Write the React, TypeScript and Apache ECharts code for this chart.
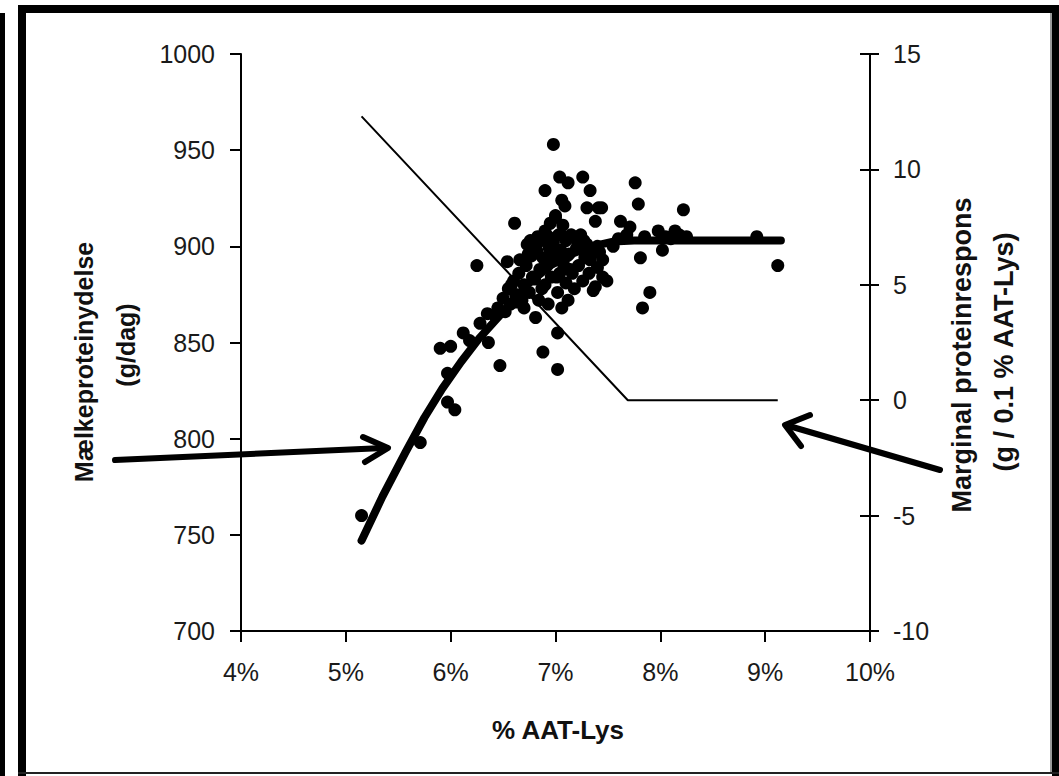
import React, { useEffect, useRef } from "react";
import * as echarts from "echarts";

// x-axis tick values (% AAT-Lys)
const xTicks = [4, 5, 6, 7, 8, 9, 10];
// left y-axis range (g/dag)
const leftRange = [700, 1000];
// right y-axis range (g / 0.1 % AAT-Lys)
const rightRange = [-10, 15];

// titles
const xTitle = "% AAT-Lys";
const leftTitle = ["Mælkeproteinydelse", "(g/dag)"];
const rightTitle = ["Marginal proteinrespons", "(g / 0.1 % AAT-Lys)"];

// Observed milk protein yield, [ % AAT-Lys, g/dag ]
const observedPoints: [number, number][] = [
  [5.15, 760], [5.71, 798], [5.97, 819], [6.04, 815], [5.97, 834], [5.90, 847],
  [6.00, 848], [6.12, 855], [6.47, 838], [6.25, 890], [6.18, 851], [6.28, 860],
  [6.35, 865], [6.42, 864], [6.36, 850],
  [6.45, 868], [6.50, 873], [6.52, 866], [6.55, 878], [6.57, 870], [6.60, 882],
  [6.62, 875], [6.54, 892], [6.61, 912], [6.73, 901],
  [6.65, 886], [6.68, 872], [6.70, 880], [6.72, 890], [6.75, 876], [6.77, 895],
  [6.80, 883], [6.81, 863], [6.82, 898], [6.84, 872], [6.85, 888], [6.86, 903],
  [6.88, 845], [6.88, 894], [6.90, 880], [6.90, 908], [6.92, 890], [6.94, 899],
  [6.95, 912], [6.96, 884], [6.98, 902], [7.00, 893], [7.00, 916], [7.02, 876],
  [7.02, 855], [7.02, 836], [7.03, 906], [7.04, 886], [7.05, 898], [7.06, 868],
  [7.07, 911], [7.08, 890], [7.10, 881], [7.10, 903], [7.12, 872], [7.13, 896],
  [7.15, 906], [7.16, 886], [7.18, 878], [7.20, 899], [7.22, 890], [7.24, 906],
  [7.26, 882], [7.28, 894], [7.30, 901], [7.32, 886], [7.35, 896], [7.38, 879],
  [7.40, 889], [7.42, 897], [7.45, 893], [7.49, 882], [7.36, 877], [7.45, 884],
  [6.58, 880], [6.63, 871], [6.66, 893], [6.70, 868], [6.74, 896], [6.78, 884],
  [6.83, 905], [6.87, 878], [6.93, 905], [6.97, 895], [7.01, 884], [7.05, 906],
  [7.11, 895], [7.14, 888], [7.19, 904], [7.27, 903], [7.33, 893], [7.40, 900],
  [6.76, 903], [6.93, 870],
  [6.98, 953], [7.04, 936], [7.12, 933], [7.26, 936], [6.90, 929], [7.33, 929],
  [7.06, 924], [7.09, 921], [7.30, 920], [7.41, 920], [7.38, 913], [7.00, 915],
  [7.44, 920], [7.62, 913], [7.71, 910], [7.76, 933], [7.79, 922], [8.22, 919],
  [7.98, 908], [8.14, 908], [8.92, 905], [9.12, 890], [7.81, 894], [7.90, 876],
  [7.83, 868], [8.02, 898], [8.05, 905], [8.18, 906], [8.25, 905], [7.60, 904],
  [7.55, 900], [7.68, 906], [7.85, 905], [8.10, 904],
];

// Fitted response curve, [ % AAT-Lys, g/dag ]
const fittedCurve: [number, number][] = [
  [5.15, 747], [5.35, 770], [5.57, 793], [5.75, 811], [5.92, 826], [6.1, 840],
  [6.27, 852], [6.5, 866], [6.73, 880], [6.95, 890], [7.15, 896], [7.35, 900],
  [7.55, 902.5], [7.75, 903], [9.15, 903],
];

// Marginal response, [ % AAT-Lys, g / 0.1 % AAT-Lys ]
const marginalResponse: [number, number][] = [
  [5.15, 12.3], [7.69, 0], [9.12, 0],
];

const FONT = "'Liberation Sans', Arial, sans-serif";

export default function App() {
  const ref = useRef<HTMLDivElement>(null);

  useEffect(() => {
    document.body.style.margin = "0";
    const chart = echarts.init(ref.current!, null, { renderer: "svg" });
    const black = "#000";
    const labelStyle = { fontSize: 25, color: "#1a1a1a", fontFamily: FONT };
    const titleText = (text: string, x: number, y: number, size: number, rotate: boolean) => ({
      type: "text",
      x,
      y,
      rotation: rotate ? Math.PI / 2 : 0,
      style: {
        text,
        fill: "#111",
        font: `bold ${size}px ${FONT}`,
        align: "center",
        verticalAlign: "middle",
      },
      z: 10,
    });

    chart.setOption({
      animation: false,
      backgroundColor: "#fff",
      grid: { left: 241, right: 189, top: 54, bottom: 145, containLabel: false },
      xAxis: {
        type: "value",
        min: xTicks[0],
        max: xTicks[xTicks.length - 1],
        interval: 1,
        axisLine: { show: true, onZero: false, lineStyle: { color: black, width: 2 } },
        axisTick: { show: true, length: 11, lineStyle: { color: black, width: 2 } },
        axisLabel: { ...labelStyle, margin: 28, formatter: (v: number) => `${v}%` },
        splitLine: { show: false },
      },
      yAxis: [
        {
          type: "value",
          position: "left",
          min: leftRange[0],
          max: leftRange[1],
          interval: 50,
          axisLine: { show: true, onZero: false, lineStyle: { color: black, width: 2 } },
          axisTick: { show: true, length: 11, lineStyle: { color: black, width: 2 } },
          axisLabel: { ...labelStyle, margin: 26, formatter: (v: number) => String(v) },
          splitLine: { show: false },
        },
        {
          type: "value",
          position: "right",
          min: rightRange[0],
          max: rightRange[1],
          interval: 5,
          axisLine: { show: true, onZero: false, lineStyle: { color: black, width: 2 } },
          axisTick: { show: true, length: 9, lineStyle: { color: black, width: 2 } },
          axisLabel: { ...labelStyle, margin: 23, formatter: (v: number) => String(v) },
          splitLine: { show: false },
        },
        {
          type: "value",
          position: "right",
          min: rightRange[0],
          max: rightRange[1],
          interval: 5,
          axisLine: { show: false, onZero: false },
          axisTick: { show: true, inside: true, length: 10, lineStyle: { color: black, width: 2 } },
          axisLabel: { show: false },
          splitLine: { show: false },
        },
      ],
      series: [
        {
          type: "scatter",
          yAxisIndex: 0,
          data: observedPoints,
          symbol: "circle",
          symbolSize: 13,
          itemStyle: { color: black, opacity: 1 },
          z: 3,
        },
        {
          type: "line",
          yAxisIndex: 0,
          data: fittedCurve,
          symbol: "none",
          smooth: false,
          lineStyle: { color: black, width: 8, cap: "round", join: "round" },
          z: 4,
        },
        {
          type: "line",
          yAxisIndex: 1,
          data: marginalResponse,
          symbol: "none",
          lineStyle: { color: black, width: 2 },
          z: 4,
        },
      ],
      graphic: [
        // frame
        { type: "rect", shape: { x: 0, y: 13, width: 5, height: 763 }, style: { fill: "#000" } },
        { type: "rect", shape: { x: 18, y: 5, width: 8, height: 771 }, style: { fill: "#000" } },
        { type: "rect", shape: { x: 18, y: 5, width: 1041, height: 8 }, style: { fill: "#000" } },
        { type: "rect", shape: { x: 1052, y: 5, width: 7, height: 771 }, style: { fill: "#000" } },
        { type: "rect", shape: { x: 18, y: 772, width: 1041, height: 2 }, style: { fill: "#222" } },
        { type: "rect", shape: { x: 1050, y: 13, width: 2, height: 759 }, style: { fill: "#999" } },
        // titles
        titleText(xTitle, 558, 730, 26, false),
        titleText(leftTitle[0], 84, 362, 25, true),
        titleText(leftTitle[1], 126, 345, 25, true),
        titleText(rightTitle[0], 962, 355, 27, true),
        titleText(rightTitle[1], 1004, 352, 27, true),
        // left arrow
        {
          type: "line",
          shape: { x1: 115, y1: 460, x2: 384, y2: 448 },
          style: { stroke: "#000", lineWidth: 6, lineCap: "round" },
        },
        {
          type: "polyline",
          shape: { points: [[363, 437], [388, 448], [365, 462]] },
          style: { stroke: "#000", lineWidth: 6, lineCap: "round", lineJoin: "round", fill: "none" },
        },
        // right arrow
        {
          type: "line",
          shape: { x1: 940, y1: 470, x2: 789, y2: 426 },
          style: { stroke: "#000", lineWidth: 6, lineCap: "round" },
        },
        {
          type: "polyline",
          shape: { points: [[810, 415], [785, 425], [801, 446]] },
          style: { stroke: "#000", lineWidth: 6, lineCap: "round", lineJoin: "round", fill: "none" },
        },
      ],
    });

    return () => chart.dispose();
  }, []);

  return (
    <div
      ref={ref}
      style={{ position: "absolute", left: 0, top: 0, width: 1059, height: 776 }}
    />
  );
}
